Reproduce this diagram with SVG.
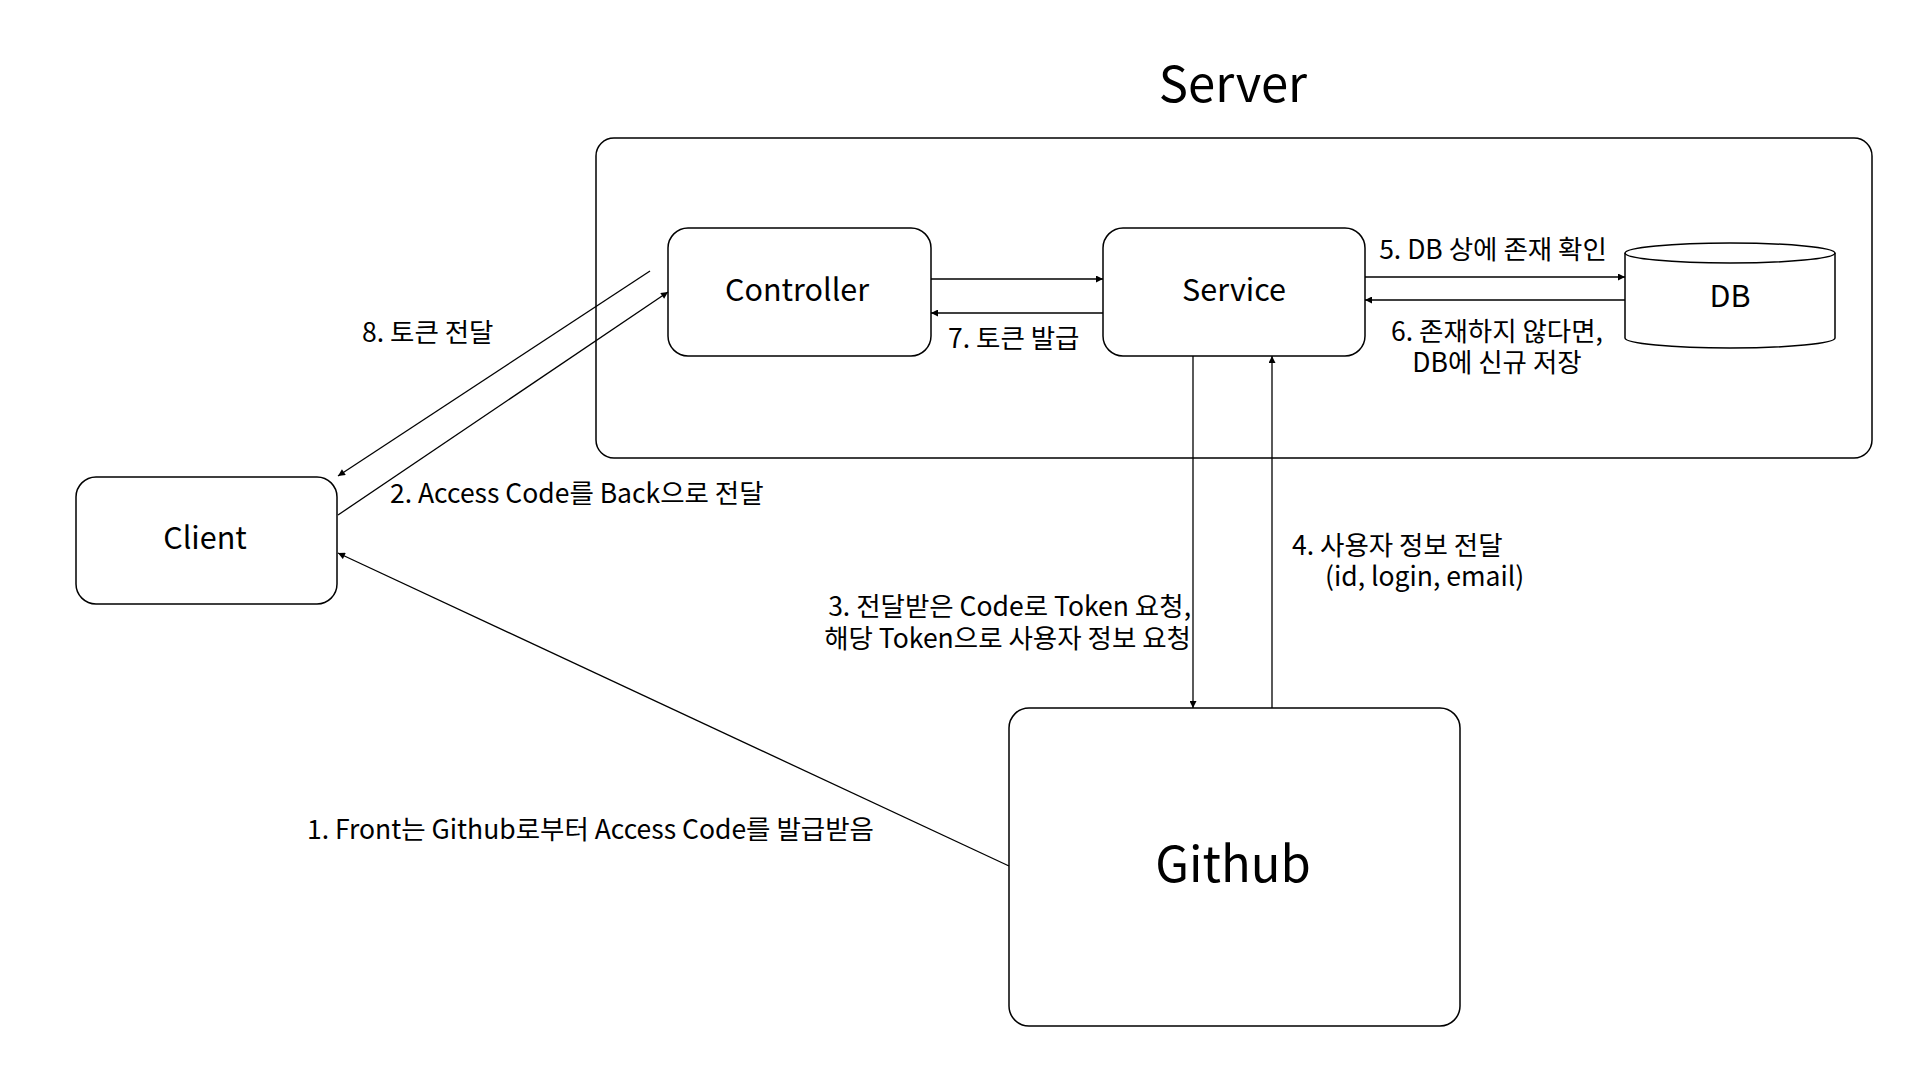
<svg xmlns="http://www.w3.org/2000/svg" width="1920" height="1080" viewBox="0 0 1920 1080">
<defs>
<style>
.box{fill:#fff;stroke:#000;stroke-width:1.5}
.t{font-family:"Noto Sans CJK KR","Noto Sans",sans-serif;fill:#000}
.lbl{font-size:26.5px}
.node{font-size:30.5px;text-anchor:middle}
.big{font-size:49px;text-anchor:middle}
.c{fill:none;stroke:#000;stroke-width:1.3}
</style>
<marker id="ah" viewBox="0 0 10 10" refX="10" refY="5" markerWidth="9" markerHeight="7" markerUnits="userSpaceOnUse" orient="auto">
<path d="M0,0 L10,5 L0,10 z" fill="#000"/>
</marker>
</defs>
<rect width="1920" height="1080" fill="#fff"/>
<g id="server">
<rect class="box" x="596" y="138" width="1276" height="320" rx="18"/>
<text class="t big" x="1233" y="102">Server</text>
</g>
<g id="controller">
<rect class="box" x="668" y="228" width="263" height="128" rx="20"/>
<text class="t node" x="797" y="301">Controller</text>
</g>
<g id="service">
<rect class="box" x="1103" y="228" width="262" height="128" rx="20"/>
<text class="t node" x="1234" y="301">Service</text>
</g>
<g id="db">
<path class="box" d="M1625,253 L1625,338 A105,10 0 0 0 1835,338 L1835,253 A105,10 0 0 0 1625,253 Z"/>
<path class="box" style="fill:none" d="M1625,253 A105,10 0 0 0 1835,253"/>
<text class="t node" x="1730" y="307">DB</text>
</g>
<g id="client">
<rect class="box" x="76" y="477" width="261" height="127" rx="20"/>
<text class="t node" x="205" y="549">Client</text>
</g>
<g id="github">
<rect class="box" x="1009" y="708" width="451" height="318" rx="20"/>
<text class="t big" x="1233" y="882">Github</text>
</g>
<g id="connectors">
<line class="c" x1="931" y1="279" x2="1103" y2="279" marker-end="url(#ah)"/>
<line class="c" x1="1103" y1="313" x2="931" y2="313" marker-end="url(#ah)"/>
<line class="c" x1="1365" y1="277" x2="1625" y2="277" marker-end="url(#ah)"/>
<line class="c" x1="1625" y1="300" x2="1365" y2="300" marker-end="url(#ah)"/>
<line class="c" x1="1193" y1="356" x2="1193" y2="708" marker-end="url(#ah)"/>
<line class="c" x1="1272" y1="708" x2="1272" y2="356" marker-end="url(#ah)"/>
<line class="c" x1="338" y1="515" x2="668" y2="292" marker-end="url(#ah)"/>
<line class="c" x1="650" y1="271" x2="338" y2="476" marker-end="url(#ah)"/>
<line class="c" x1="1009" y1="866" x2="338" y2="553" marker-end="url(#ah)"/>
</g>
<g id="labels">
<text class="t lbl" x="1493" y="259" text-anchor="middle">5. DB 상에 존재 확인</text>
<text class="t lbl" text-anchor="middle"><tspan x="1497" y="341">6. 존재하지 않다면,</tspan><tspan x="1497" y="372">DB에 신규 저장</tspan></text>
<text class="t lbl" x="948" y="348">7. 토큰 발급</text>
<text class="t lbl" x="362" y="342">8. 토큰 전달</text>
<text class="t lbl" x="390" y="503">2. Access Code를 Back으로 전달</text>
<text class="t lbl" text-anchor="end"><tspan x="1191" y="616">3. 전달받은 Code로 Token 요청,</tspan><tspan x="1191" y="648">해당 Token으로 사용자 정보 요청</tspan></text>
<text class="t lbl"><tspan x="1292" y="555">4. 사용자 정보 전달</tspan><tspan x="1325" y="586">(id, login, email)</tspan></text>
<text class="t lbl" x="307" y="839">1. Front는 Github로부터 Access Code를 발급받음</text>
</g>
</svg>
